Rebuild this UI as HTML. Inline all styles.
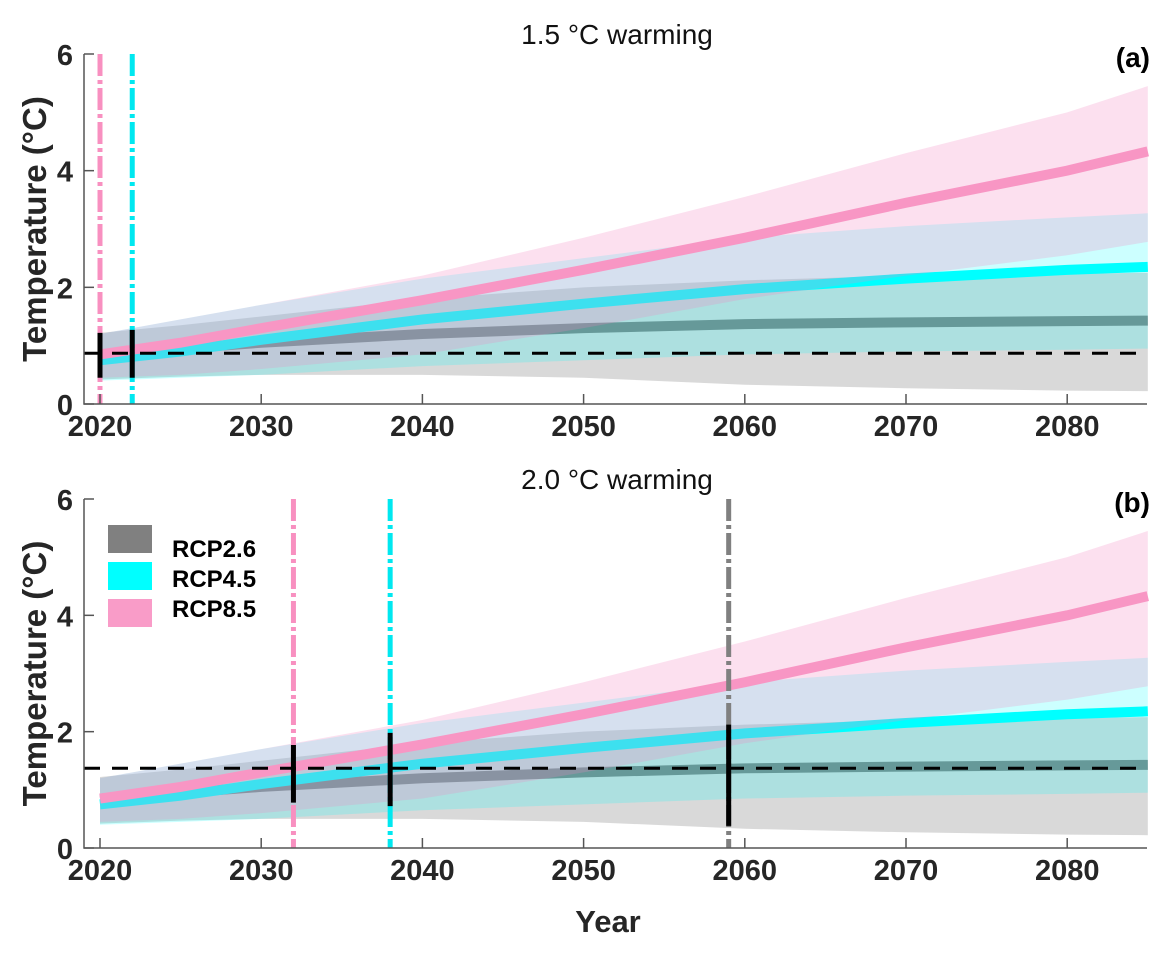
<!DOCTYPE html>
<html><head><meta charset="utf-8">
<style>
body{margin:0;background:#fff;}
svg{display:block;font-family:"Liberation Sans",Arial,sans-serif;}
</style></head>
<body>
<svg id="chart" width="1170" height="954" viewBox="0 0 1170 954"></svg>
<script>
const years=[2020,2025,2030,2040,2050,2060,2070,2080,2085];
const rcp26Mean=[0.85,0.95,1.05,1.2,1.3,1.37,1.4,1.42,1.43];
const rcp26Low=[0.42,0.47,0.5,0.5,0.45,0.33,0.27,0.23,0.22];
const rcp26High=[1.22,1.35,1.5,1.8,2.0,2.12,2.2,2.23,2.25];
const rcp45Mean=[0.75,0.9,1.1,1.45,1.72,1.97,2.15,2.3,2.35];
const rcp45Low=[0.4,0.45,0.5,0.65,0.75,0.85,0.9,0.93,0.95];
const rcp45High=[1.2,1.45,1.7,2.15,2.5,2.85,3.05,3.2,3.27];
const rcp85Mean=[0.85,1.05,1.3,1.78,2.3,2.85,3.45,4.0,4.33];
const rcp85Low=[0.45,0.5,0.6,0.85,1.3,1.8,2.2,2.55,2.78];
const rcp85High=[1.2,1.45,1.7,2.2,2.85,3.55,4.3,5.0,5.45];
const xTicks=[2020,2030,2040,2050,2060,2070,2080];
const yTicks=[0,2,4,6];
const thrA=0.87;
const vlinesA=[{year:2020,color:'#f890c0',lo:0.45,hi:1.22,name:'rcp85'},{year:2022,color:'#00e8f0',lo:0.45,hi:1.27,name:'rcp45'}];
const thrB=1.37;
const vlinesB=[{year:2032,color:'#f890c0',lo:0.78,hi:1.77,name:'rcp85'},{year:2038,color:'#00e8f0',lo:0.72,hi:1.98,name:'rcp45'},{year:2059,color:'#808080',lo:0.38,hi:2.12,name:'rcp26'}];

const NS='http://www.w3.org/2000/svg';
const svg=document.getElementById('chart');
function mk(tag,attrs,parent){const e=document.createElementNS(NS,tag);for(const k in attrs)e.setAttribute(k,attrs[k]);(parent||svg).appendChild(e);return e;}

function panel(top,bottom,thr,vlines,title,label){
  const x0=100,pxYr=16.12,left=84,right=1147;
  const X=y=>x0+(y-2020)*pxYr;
  const Y=v=>bottom-(bottom-top)*v/6;
  const g=mk('g',{});
  
  
  function band(lo,hi,fill,op,name){
    let d='M'+years.map((y,i)=>X(y)+','+Y(hi[i])).join('L');
    d+='L'+years.slice().reverse().map((y,j)=>{const i=years.length-1-j;return X(y)+','+Y(lo[i]);}).join('L')+'Z';
    const p=mk('path',{d:d,fill:fill,'fill-opacity':op},g);
    
    
  }
  function line(m,color,name){
    const p=mk('path',{d:'M'+years.map((y,i)=>X(y)+','+Y(m[i])).join('L'),stroke:color,'stroke-width':10,fill:'none'},g);
    
    
  }
  band(rcp26Low,rcp26High,'#808080',0.3,'rcp26-band');
  line(rcp26Mean,'#808080','rcp26-line');
  band(rcp45Low,rcp45High,'#00ffff',0.2,'rcp45-band');
  line(rcp45Mean,'#00ffff','rcp45-line');
  band(rcp85Low,rcp85High,'#f582be',0.25,'rcp85-band');
  line(rcp85Mean,'#f896c4','rcp85-line');
  vlines.forEach(v=>{
    const l=mk('line',{x1:X(v.year),x2:X(v.year),y1:top,y2:bottom,stroke:v.color,'stroke-width':5,'stroke-dasharray':'22,4,4,4'},g);
    
    
  });
  const h=mk('line',{x1:left,x2:right,y1:Y(thr),y2:Y(thr),stroke:'#000','stroke-width':3,'stroke-dasharray':'16,12'},g);
  
  
  vlines.forEach(v=>{
    const l=mk('line',{x1:X(v.year),x2:X(v.year),y1:Y(v.lo),y2:Y(v.hi),stroke:'#000','stroke-width':5},g);
    
    
  });
  const ax=mk('path',{d:`M${left},${top}L${left},${bottom}L${right},${bottom}`,stroke:'#555','stroke-width':1.5,fill:'none'},g);
  
  
  xTicks.forEach(t=>{
    mk('line',{x1:X(t),x2:X(t),y1:bottom,y2:bottom-10,stroke:'#555','stroke-width':1.5},g);
    const tx=mk('text',{x:X(t),y:bottom+32,'text-anchor':'middle','font-size':29,'font-weight':'bold',fill:'#262626'},g);
    tx.textContent=t;
    
    
  });
  yTicks.forEach(t=>{
    mk('line',{x1:left,x2:left+10,y1:Y(t),y2:Y(t),stroke:'#555','stroke-width':1.5},g);
    const tx=mk('text',{x:left-11,y:Y(t)+11,'text-anchor':'end','font-size':29,'font-weight':'bold',fill:'#262626'},g);
    tx.textContent=t;
    
    
  });
  const yl=mk('text',{x:0,y:0,transform:`translate(46,${(top+bottom)/2}) rotate(-90)`,'text-anchor':'middle','font-size':33,'font-weight':'bold',fill:'#262626'},g);
  yl.textContent='Temperature (°C)';
  
  
  const ti=mk('text',{x:617,y:top-10,'text-anchor':'middle','font-size':28,fill:'#111'},g);
  ti.textContent=title;
  
  
  const lb=mk('text',{x:1150,y:top+13,'text-anchor':'end','font-size':28,'font-weight':'bold',fill:'#000'},g);
  lb.textContent='('+label+')';
  
  
}
panel(54,404,thrA,vlinesA,'1.5 °C  warming','a');
panel(499,848,thrB,vlinesB,'2.0 °C  warming','b');

const legItems=[['RCP2.6','#808080'],['RCP4.5','#00ffff'],['RCP8.5','#f99cc8']];
legItems.forEach((it,i)=>{
  const r=mk('rect',{x:108,y:525+i*37,width:44,height:28,fill:it[1]});
  
  
  const t=mk('text',{x:172,y:557+i*30,'font-size':24,'font-weight':'bold',fill:'#000'});
  t.textContent=it[0];
  
  
});
const xl=mk('text',{x:608,y:932,'text-anchor':'middle','font-size':31,'font-weight':'bold',fill:'#262626'});
xl.textContent='Year';


</script>
</body></html>
